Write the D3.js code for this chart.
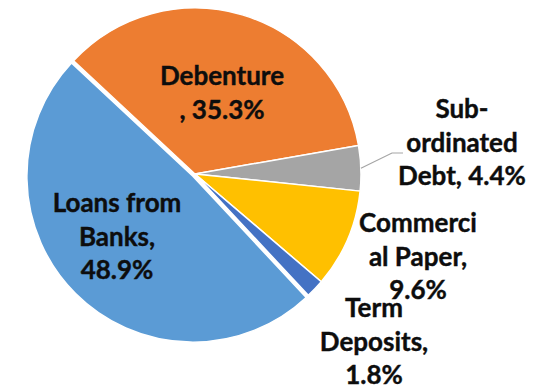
<!DOCTYPE html>
<html>
<head>
<meta charset="utf-8">
<script src="https://cdn.jsdelivr.net/npm/d3@7"></script>
<style>
  html, body { margin: 0; padding: 0; background: #fff; }
  svg { display: block; }
</style>
</head>
<body>
<svg id="chart" width="550" height="389"></svg>
<script>
// Funding mix, share of total borrowings (%)
const categories = ["Debenture", "Sub-ordinated Debt", "Commercial Paper", "Term Deposits", "Loans from Banks"];
const values = [35.3, 4.4, 9.6, 1.8, 48.9];
const colors = ["#ED7D31", "#A5A5A5", "#FFC000", "#4472C4", "#5B9BD5"];
// Label text, split into lines as printed
const labelLines = [
  ["Debenture", ", 35.3%"],
  ["Sub-", "ordinated", "Debt, 4.4%"],
  ["Commerci", "al Paper,", "9.6%"],
  ["Term", "Deposits,", "1.8%"],
  ["Loans from", "Banks,", "48.9%"]
];

// Layout
const cx = 195, cy = 174, radius = 166;
const startDeg = -47;
const explode = [0, 0, 0, 0, 3];
const labelPos = [
  [222, 85], [462, 118], [418, 232], [374, 317], [117, 212]
];
const lineGap = 33.5;

const svg = d3.select("#chart");
const g = svg.append("g").attr("transform", `translate(${cx},${cy})`);

const pie = d3.pie()
  .sort(null)
  .value(d => d.value)
  .startAngle(startDeg * Math.PI / 180)
  .endAngle(startDeg * Math.PI / 180 + 2 * Math.PI);

const data = categories.map((c, i) => ({ name: c, value: values[i], color: colors[i], ex: explode[i] }));
const arcs = pie(data);
const arc = d3.arc().innerRadius(0).outerRadius(radius);

g.selectAll("path.slice")
  .data(arcs)
  .join("path")
  .attr("class", "slice")
  .attr("d", arc)
  .attr("fill", d => d.data.color)
  .attr("stroke", "#fff")
  .attr("stroke-width", 1.5)
  .attr("stroke-linejoin", "round")
  .attr("transform", d => {
    const a = (d.startAngle + d.endAngle) / 2;
    return `translate(${Math.sin(a) * d.data.ex},${-Math.cos(a) * d.data.ex})`;
  });

// Leader line for the sub-ordinated debt label
const sub = arcs[1];
const subMid = (sub.startAngle + sub.endAngle) / 2;
const p0 = [cx + Math.sin(subMid) * radius, cy - Math.cos(subMid) * radius];
svg.append("polyline")
  .attr("points", [p0, [392, 153], [403, 153]].map(p => p.join(",")).join(" "))
  .attr("fill", "none")
  .attr("stroke", "#A5A5A5")
  .attr("stroke-width", 1.2);

// Data labels
const labels = svg.selectAll("text.lbl")
  .data(labelLines)
  .join("text")
  .attr("class", "lbl")
  .attr("text-anchor", "middle")
  .attr("font-family", "Lato, 'Noto Sans', sans-serif")
  .attr("font-weight", "bold")
  .attr("font-size", 26)
  .attr("fill", "#0D0D0D")
  .attr("stroke", "#0D0D0D")
  .attr("stroke-width", 0.4);

labels.each(function(lines, i) {
  const t = d3.select(this);
  lines.forEach((ln, k) => {
    t.append("tspan")
      .attr("x", labelPos[i][0])
      .attr("y", labelPos[i][1] + k * lineGap)
      .text(ln);
  });
});
</script>
</body>
</html>
